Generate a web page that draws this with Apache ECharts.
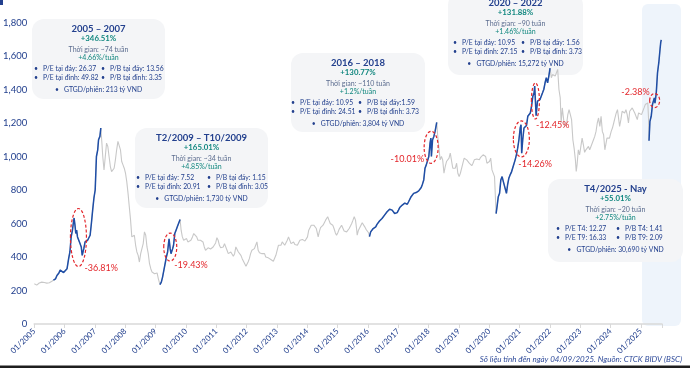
<!DOCTYPE html>
<html><head><meta charset="utf-8">
<script src="https://cdn.jsdelivr.net/npm/echarts/dist/echarts.min.js"></script>
<style>html,body{margin:0;padding:0;background:#fff;}#c{width:690px;height:368px;}</style>
</head><body><div id="c"></div>
<script>
// ---------- DATA ----------
const dates = [
"2005-01-03","2005-02-01","2005-03-01","2005-04-01","2005-05-01","2005-06-01","2005-07-01","2005-08-01","2005-08-20","2005-09-15","2005-10-01","2005-10-25","2005-11-10","2005-12-01","2005-12-20",
"2006-01-10","2006-02-01","2006-02-20","2006-03-05","2006-03-20","2006-04-05","2006-04-15","2006-04-25","2006-05-05","2006-05-15","2006-05-25","2006-06-05","2006-06-20","2006-07-05","2006-07-20","2006-08-01","2006-08-08","2006-08-20","2006-09-05","2006-09-20","2006-10-05","2006-10-20","2006-11-05","2006-11-20","2006-12-05","2006-12-20",
"2007-01-05","2007-01-20","2007-02-05","2007-02-15","2007-03-01","2007-03-12","2007-03-25","2007-04-05","2007-04-20","2007-05-05","2007-05-20","2007-06-05","2007-06-20","2007-07-05","2007-07-20","2007-08-05","2007-08-20","2007-09-05","2007-09-20","2007-10-05","2007-10-20","2007-11-05","2007-11-20","2007-12-05","2007-12-20",
"2008-01-05","2008-01-20","2008-02-05","2008-02-20","2008-03-05","2008-03-20","2008-04-05","2008-04-20","2008-05-05","2008-05-20","2008-06-05","2008-06-20","2008-07-05","2008-07-20","2008-08-05","2008-08-20","2008-09-05","2008-09-20","2008-10-05","2008-10-20","2008-11-05","2008-11-20","2008-12-05","2008-12-20",
"2009-01-05","2009-01-20","2009-02-05","2009-02-24","2009-03-10","2009-03-25","2009-04-10","2009-04-25","2009-05-10","2009-05-25","2009-06-05","2009-06-12","2009-06-25","2009-07-05","2009-07-10","2009-07-25","2009-08-05","2009-08-20","2009-09-05","2009-09-20","2009-10-05","2009-10-23","2009-11-05","2009-11-20","2009-12-05","2009-12-20",
"2010-01-10","2010-01-25","2010-02-10","2010-03-01","2010-03-20","2010-04-05","2010-04-20","2010-05-10","2010-05-25","2010-06-10","2010-06-25","2010-07-10","2010-07-25","2010-08-10","2010-08-25","2010-09-10","2010-09-25","2010-10-10","2010-10-25","2010-11-10","2010-11-25","2010-12-10","2010-12-25",
"2011-01-10","2011-01-25","2011-02-10","2011-02-25","2011-03-10","2011-03-25","2011-04-10","2011-04-25","2011-05-10","2011-05-25","2011-06-10","2011-06-25","2011-07-10","2011-07-25","2011-08-10","2011-08-25","2011-09-10","2011-09-25","2011-10-10","2011-10-25","2011-11-10","2011-11-25","2011-12-10","2011-12-25",
"2012-01-05","2012-01-20","2012-02-05","2012-02-20","2012-03-05","2012-03-20","2012-04-05","2012-04-20","2012-05-05","2012-05-20","2012-06-05","2012-06-20","2012-07-05","2012-07-20","2012-08-05","2012-08-20","2012-09-05","2012-09-20","2012-10-05","2012-10-20","2012-11-05","2012-11-20","2012-12-05","2012-12-20",
"2013-01-05","2013-01-20","2013-02-05","2013-02-20","2013-03-05","2013-03-20","2013-04-05","2013-04-20","2013-05-05","2013-05-20","2013-06-05","2013-06-20","2013-07-05","2013-07-20","2013-08-05","2013-08-20","2013-09-05","2013-09-20","2013-10-05","2013-10-20","2013-11-05","2013-11-20","2013-12-05","2013-12-20",
"2014-01-05","2014-01-20","2014-02-05","2014-02-20","2014-03-05","2014-03-20","2014-04-05","2014-04-20","2014-05-05","2014-05-12","2014-05-25","2014-06-10","2014-06-25","2014-07-10","2014-07-25","2014-08-10","2014-08-25","2014-09-05","2014-09-20","2014-10-05","2014-10-20","2014-11-05","2014-11-20","2014-12-05","2014-12-20",
"2015-01-05","2015-01-20","2015-02-05","2015-02-20","2015-03-05","2015-03-20","2015-04-05","2015-04-20","2015-05-05","2015-05-20","2015-06-05","2015-06-20","2015-07-05","2015-07-20","2015-08-05","2015-08-20","2015-08-25","2015-09-10","2015-09-25","2015-10-10","2015-10-25","2015-11-10","2015-11-25","2015-12-10","2015-12-25",
"2016-01-10","2016-01-21","2016-02-05","2016-02-20","2016-03-05","2016-03-20","2016-04-05","2016-04-20","2016-05-05","2016-05-20","2016-06-05","2016-06-20","2016-07-05","2016-07-20","2016-08-05","2016-08-20","2016-09-05","2016-09-20","2016-10-05","2016-10-20","2016-11-05","2016-11-20","2016-12-05","2016-12-20",
"2017-01-05","2017-01-20","2017-02-05","2017-02-20","2017-03-05","2017-03-20","2017-04-05","2017-04-20","2017-05-05","2017-05-20","2017-06-05","2017-06-20","2017-07-05","2017-07-20","2017-08-05","2017-08-20","2017-09-05","2017-09-20","2017-10-05","2017-10-20","2017-11-05","2017-11-20","2017-12-05","2017-12-20",
"2018-01-05","2018-01-20","2018-01-30","2018-02-06","2018-02-20","2018-03-05","2018-03-20","2018-04-09","2018-04-20","2018-05-05","2018-05-20","2018-06-05","2018-06-20","2018-07-05","2018-07-20","2018-08-05","2018-08-20","2018-09-05","2018-09-20","2018-10-05","2018-10-20","2018-11-05","2018-11-20","2018-12-05","2018-12-20",
"2019-01-05","2019-01-20","2019-02-05","2019-02-20","2019-03-05","2019-03-20","2019-04-05","2019-04-20","2019-05-05","2019-05-20","2019-06-05","2019-06-20","2019-07-05","2019-07-20","2019-08-05","2019-08-20","2019-09-05","2019-09-20","2019-10-05","2019-10-20","2019-11-05","2019-11-20","2019-12-05","2019-12-20",
"2020-01-05","2020-01-20","2020-02-05","2020-02-20","2020-03-05","2020-03-12","2020-03-24","2020-04-05","2020-04-20","2020-05-05","2020-05-20","2020-06-05","2020-06-20","2020-07-05","2020-07-27","2020-08-10","2020-08-25","2020-09-10","2020-09-25","2020-10-10","2020-10-25","2020-11-10","2020-11-25","2020-12-10","2020-12-25",
"2021-01-10","2021-01-20","2021-01-28","2021-02-10","2021-02-25","2021-03-10","2021-03-25","2021-04-10","2021-04-25","2021-05-10","2021-05-25","2021-06-10","2021-06-25","2021-07-02","2021-07-19","2021-08-05","2021-08-20","2021-09-05","2021-09-20","2021-10-05","2021-10-20","2021-11-05","2021-11-20","2021-12-05","2021-12-20",
"2022-01-04","2022-01-20","2022-02-05","2022-02-20","2022-03-05","2022-03-20","2022-04-05","2022-04-20","2022-05-05","2022-05-16","2022-05-30","2022-06-10","2022-06-25","2022-07-05","2022-07-20","2022-08-05","2022-08-20","2022-09-05","2022-09-20","2022-10-05","2022-10-20","2022-11-05","2022-11-15","2022-11-25","2022-12-10","2022-12-25",
"2023-01-10","2023-01-25","2023-02-10","2023-02-25","2023-03-10","2023-03-25","2023-04-10","2023-04-25","2023-05-10","2023-05-25","2023-06-10","2023-06-25","2023-07-10","2023-07-25","2023-08-10","2023-08-25","2023-09-10","2023-09-25","2023-10-10","2023-10-25","2023-11-05","2023-11-20","2023-12-05","2023-12-20",
"2024-01-10","2024-01-25","2024-02-10","2024-02-25","2024-03-10","2024-03-25","2024-04-05","2024-04-20","2024-05-05","2024-05-20","2024-06-05","2024-06-20","2024-07-05","2024-07-20","2024-08-05","2024-08-20","2024-09-05","2024-09-20","2024-10-05","2024-10-20","2024-11-05","2024-11-20","2024-12-05","2024-12-20",
"2025-01-10","2025-01-25","2025-02-10","2025-02-25","2025-03-10","2025-03-25","2025-04-03","2025-04-09","2025-04-20","2025-05-05","2025-05-20","2025-06-05","2025-06-12","2025-06-20","2025-07-05","2025-07-20","2025-08-05","2025-08-20","2025-08-28","2025-09-04"
];
const values = [
240,232,245,250,248,244,246,255,262,270,290,305,322,312,307,
318,330,390,430,520,560,600,633,590,540,560,520,525,480,460,410,400,450,490,480,500,505,530,600,680,751,
800,1000,1040,1100,1120,1170,1080,1000,920,1000,1080,1060,1000,940,910,900,930,980,1040,1090,1080,1040,970,950,930,
900,850,780,700,620,520,510,530,470,430,410,370,420,450,480,550,530,460,420,360,330,310,300,300,
310,305,270,235,250,280,320,330,400,430,480,509,450,420,410,450,470,540,560,580,590,624,560,520,500,494,
510,490,500,500,520,540,530,520,500,510,500,500,490,460,440,450,455,450,448,450,460,470,484,
515,500,470,455,465,460,480,475,440,420,410,430,420,405,420,460,450,430,420,410,390,380,360,345,
340,370,390,420,440,430,450,470,490,440,425,430,420,410,420,400,410,395,390,385,380,375,385,410,
420,470,475,470,490,480,470,475,500,520,510,480,485,490,475,465,470,480,500,510,505,500,495,505,
520,560,570,590,600,590,585,570,560,520,550,575,580,590,600,620,630,640,620,600,610,590,570,545,530,
545,565,575,590,580,555,560,550,560,570,585,600,620,640,620,560,530,560,570,590,605,600,580,565,575,
545,522,550,560,570,565,580,595,600,615,620,630,640,650,660,670,680,685,675,680,675,660,665,665,
680,695,705,710,715,722,720,715,730,740,760,770,780,770,785,780,795,805,815,835,860,930,950,960,
1000,1080,1110,1000,1100,1120,1150,1204,1130,1050,980,1000,980,900,940,970,980,990,1020,1030,930,920,930,960,900,
880,900,930,960,990,980,980,970,960,950,945,960,980,990,985,975,980,995,1000,1010,1015,1000,960,960,
970,990,920,930,880,800,659,700,760,780,860,880,850,860,780,830,870,890,905,930,940,980,1010,1050,1100,
1170,1190,1020,1100,1170,1180,1185,1240,1250,1260,1300,1360,1380,1420,1243,1330,1320,1340,1350,1380,1400,1440,1470,1440,1480,
1528,1470,1490,1500,1480,1490,1520,1400,1350,1200,1290,1290,1180,1180,1190,1250,1280,1250,1220,1100,1050,980,911,950,1040,1010,
1060,1110,1070,1025,1040,1050,1060,1040,1060,1070,1100,1120,1150,1200,1230,1180,1240,1150,1130,1040,1050,1110,1100,1110,
1150,1170,1200,1230,1260,1280,1270,1180,1220,1270,1280,1260,1280,1250,1200,1270,1270,1290,1280,1260,1250,1220,1260,1265,
1250,1270,1290,1310,1320,1320,1230,1094,1210,1240,1310,1320,1350,1318,1380,1500,1560,1640,1680,1696
];
// rally periods (blue)
const rallies = [
  ["2005-08-20","2007-03-12"],
  ["2009-02-24","2009-10-23"],
  ["2016-01-21","2018-04-09"],
  ["2020-03-24","2022-01-04"],
  ["2025-04-09","2025-09-04"]
];
// corrections inside rallies (peak date, trough date, label)
const dipFrom = ["2006-04-25","2009-06-12","2018-01-30","2021-01-20","2021-07-02","2025-06-12"];
const dipTo   = ["2006-08-08","2009-07-10","2018-02-06","2021-01-28","2021-07-19","2025-06-20"];
const dipLabels = ["-36.81%","-19.43%","-10.01%","-14.26%","-12.45%","-2.38%"];
// annotation boxes text
const boxTitles = ["2005 – 2007","T2/2009 – T10/2009","2016 – 2018","2020 – 2022","T4/2025 - Nay"];
const boxGains  = ["+346.51%","+165.01%","+130.77%","+131.88%","+55.01%"];
const boxTimes  = ["Thời gian: ~74 tuần","Thời gian: ~34 tuần","Thời gian: ~110 tuần","Thời gian: ~90 tuần","Thời gian: ~20 tuần"];
const boxRates  = ["+4.66%/tuần","+4.85%/tuần","+1.2%/tuần","+1.46%/tuần","+2.75%/tuần"];
const boxRows = [
  [["P/E tại đáy: 26.37","P/B tại đáy: 13.56"],["P/E tại đỉnh: 49.82","P/B tại đỉnh: 3.35"]],
  [["P/E tại đáy: 7.52","P/B tại đáy: 1.15"],["P/E tại đỉnh: 20.91","P/B tại đỉnh: 3.05"]],
  [["P/E tại đáy: 10.95","P/B tại đáy:1.59"],["P/E tại đỉnh: 24.51","P/B tại đỉnh: 3.73"]],
  [["P/E tại đáy: 10.95","P/B tại đáy: 1.56"],["P/E tại đỉnh: 27.15","P/B tại đỉnh: 3.73"]],
  [["P/E T4: 12.27","P/B T4: 1.41"],["P/E T9: 16.33","P/B T9: 2.09"]]
];
const boxGtgd = ["GTGD/phiên: 213 tỷ VND","GTGD/phiên: 1,730 tỷ VND","GTGD/phiên: 3,804 tỷ VND","GTGD/phiên: 15,272 tỷ VND","GTGD/phiên: 30,690 tỷ VND"];
const footnote = "Số liệu tính đến ngày 04/09/2025. Nguồn: CTCK BIDV (BSC)";

// ---------- LAYOUT / STYLE ----------
const FONT = "Lato, 'Open Sans', sans-serif";
const NAVY = "#23408e";
const TEAL = "#11877f";
const RED = "#e3262b";
const boxLayout = [
  {x:32, y:19, w:133, h:80, c1:11, c2:78},
  {x:135,y:128,w:133, h:80, c1:10, c2:81},
  {x:291,y:53, w:134, h:79, c1:9,  c2:76},
  {x:448,y:-7, w:135, h:82, c1:14, c2:82},
  {x:548,y:179,w:135, h:83, c1:17, c2:77}
];
const dipStyle = [
  {rx:8, ry:29, dx:6,  dy:31, align:'left'},
  {rx:6.5,ry:14,dx:4,  dy:18, align:'left'},
  {rx:7, ry:16, dx:-7, dy:12, align:'right'},
  {rx:8, ry:18, dx:-3, dy:25, align:'left'},
  {rx:4, ry:18, dx:0.5,dy:24, align:'left'},
  {rx:5, ry:7,  dx:-5, dy:-8, align:'right'}
];

const toYear = d => { const p = d.split('-').map(Number); return p[0] + (p[1]-1)/12 + (p[2]-1)/365; };
const inRally = d => rallies.some(r => d >= r[0] && d <= r[1]);
const grayData = dates.map((d,i) => [toYear(d), values[i]]);
const blueData = dates.map((d,i) => [toYear(d), inRally(d) ? values[i] : '-']);

const chart = echarts.init(document.getElementById('c'), null, {renderer:'canvas'});
chart.setOption({
  animation:false,
  backgroundColor:'#ffffff',
  textStyle:{fontFamily:FONT},
  grid:{left:30, right:28, top:22.5, bottom:44, containLabel:false},
  xAxis:{
    type:'value', min:2005, max:2025.7, interval:1,
    axisLine:{show:true, lineStyle:{color:'#d9d9d9', width:1.5}},
    axisTick:{show:true, length:4, lineStyle:{color:'#d9d9d9'}},
    splitLine:{show:false},
    axisLabel:{rotate:45, margin:6, color:NAVY, fontSize:8, fontFamily:FONT,
      formatter: v => Number.isInteger(v) ? '01/' + v : ''}
  },
  yAxis:{
    type:'value', min:0, max:1800, interval:200,
    axisLine:{show:false}, axisTick:{show:false}, splitLine:{show:false},
    axisLabel:{color:NAVY, fontSize:9.5, margin:7, fontFamily:FONT,
      formatter: v => v.toLocaleString('en-US')}
  },
  series:[
    {type:'line', data:grayData, showSymbol:false, z:3, lineStyle:{color:'#c8c8c8', width:1.1}},
    {type:'line', data:blueData, showSymbol:false, z:4, connectNulls:false, lineStyle:{color:'#1f4ea6', width:1.5}}
  ]
});

// ---------- GRAPHICS ----------
const g = [];
g.push({type:'rect', z:-10, shape:{x:642, y:4, width:39, height:322, r:6}, style:{fill:'#eef4fb'}});
boxLayout.forEach((b,i) => {
  const cx = b.x + b.w/2;
  g.push({type:'rect', z:-5, shape:{x:b.x, y:b.y, width:b.w, height:b.h, r:12}, style:{fill:'#f4f5f7'}});
  const txt = (x,y,s,size,color,weight,align) => g.push({type:'text', z:-4, x:x, y:y,
    style:{text:s, fontSize:size, fill:color, fontWeight:weight||'normal', fontFamily:FONT,
      textAlign:align||'center', textVerticalAlign:'middle'}});
  txt(cx, b.y+10, boxTitles[i], 9.5, NAVY, 'bold');
  txt(cx, b.y+19.5, boxGains[i], 7.8, TEAL, 'bold');
  txt(cx, b.y+31, boxTimes[i], 7, '#5a6b8e');
  txt(cx, b.y+39, boxRates[i], 7, TEAL);
  boxRows[i].forEach((row,r) => {
    const yy = b.y + 50 + r*8.5;
    txt(b.x+b.c1-9, yy, '•', 7, NAVY, 'normal', 'left');
    txt(b.x+b.c1, yy, row[0], 6.8, NAVY, 'normal', 'left');
    txt(b.x+b.c2-9, yy, '•', 7, NAVY, 'normal', 'left');
    txt(b.x+b.c2, yy, row[1], 6.8, NAVY, 'normal', 'left');
  });
  txt(cx, b.y+70.5, '•   ' + boxGtgd[i], 6.8, NAVY);
});
dipFrom.forEach((d,i) => {
  const a = dates.indexOf(d), b = dates.indexOf(dipTo[i]);
  const xm = (toYear(d) + toYear(dipTo[i]))/2, ym = (values[a] + values[b])/2;
  const p = chart.convertToPixel({gridIndex:0}, [xm, ym]);
  const s = dipStyle[i];
  g.push({type:'ellipse', z:50, shape:{cx:p[0], cy:p[1], rx:s.rx, ry:s.ry},
    style:{fill:null, stroke:RED, lineWidth:1.2, lineDash:[3,2]}});
  g.push({type:'text', z:50, x:p[0]+s.dx, y:p[1]+s.dy,
    style:{text:dipLabels[i], fill:RED, fontSize:9, fontFamily:FONT, textAlign:s.align, textVerticalAlign:'middle'}});
});
g.push({type:'text', z:50, x:682, y:359, style:{text:footnote, fill:'#2f4b9a', fontSize:8, fontStyle:'italic', fontFamily:FONT, textAlign:'right', textVerticalAlign:'middle'}});
g.push({type:'rect', z:50, shape:{x:0, y:365.5, width:690, height:3}, style:{fill:'#1e1e1e'}});
g.push({type:'rect', z:50, shape:{x:0, y:0, width:3, height:5}, style:{fill:'#23408e'}});
chart.setOption({graphic:g});
</script>
</body></html>
